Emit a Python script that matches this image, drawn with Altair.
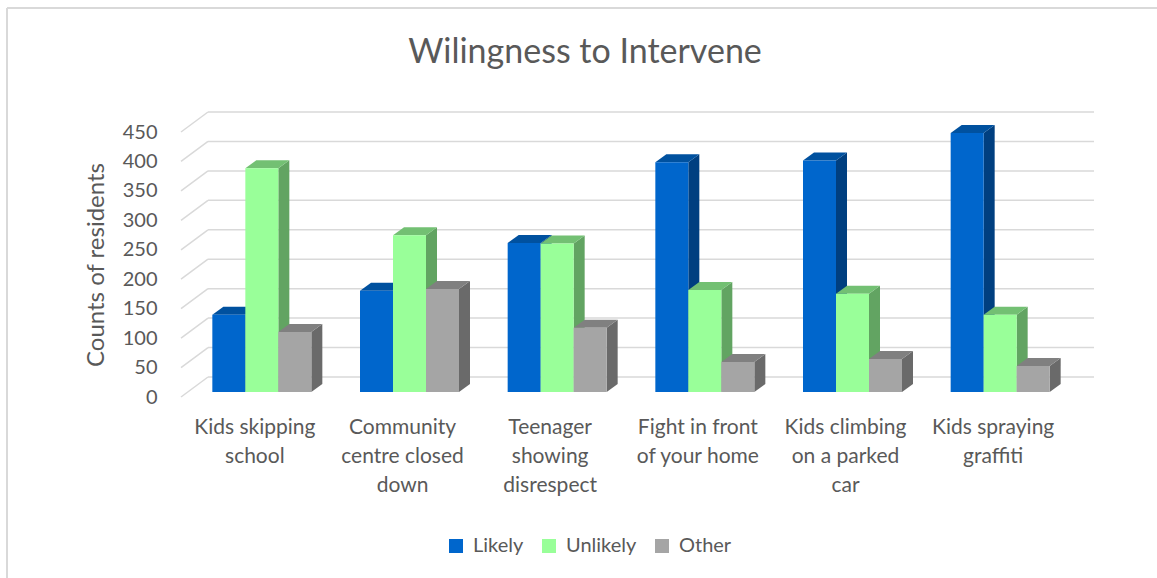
import altair as alt
import pandas as pd

# ---------------- data ----------------
CATEGORIES = [
    "Kids skipping\nschool",
    "Community\ncentre closed\ndown",
    "Teenager\nshowing\ndisrespect",
    "Fight in front\nof your home",
    "Kids climbing\non a parked\ncar",
    "Kids spraying\ngraffiti",
]
SERIES = ["Likely", "Unlikely", "Other"]
LIKELY = [131, 172, 253, 390, 393, 440]
UNLIKELY = [380, 266, 252, 173, 167, 131]
OTHER = [102, 175, 109, 51, 56, 44]
Y_TICKS = [0, 50, 100, 150, 200, 250, 300, 350, 400, 450]

# ---------------- styles ----------------
FRONT = ["#0066CC", "#99FF99", "#A5A5A5"]
TOP = ["#00519F", "#73C073", "#808080"]
SIDE = ["#003F80", "#62A462", "#6A6A6A"]
GRID = "#D9D9D9"
TEXT = "#595959"
FONT = "Lato"

W, H = 886, 265
YMAX = 450
NCAT = len(CATEGORIES)
PX_X = W / NCAT      # pixels per category unit
PX_Y = H / YMAX      # pixels per value unit

BAR_W = 33 / PX_X
PAD = (1 - 3 * BAR_W) / 2
SHIFT_X, SHIFT_Y = 7 / PX_X, 5 / PX_Y      # bars sit a little back from the front plane
BAR_DX, BAR_DY = 11 / PX_X, 8 / PX_Y       # bar depth
WALL_DX, WALL_DY = 27 / PX_X, 20 / PX_Y    # floor / wall depth

values = [LIKELY, UNLIKELY, OTHER]

fronts, tops, sides = [], [], []
for j, s in enumerate(SERIES):
    for i, v in enumerate(values[j]):
        x0 = i + PAD + j * BAR_W + SHIFT_X
        x1 = x0 + BAR_W
        b = SHIFT_Y
        t = v + SHIFT_Y
        bid = f"{s}-{i}"
        fronts.append({"series": s, "x0": x0, "x1": x1, "yb": b, "yt": t, "value": v})
        tops.append({"id": bid, "c": TOP[j], "y": t, "xa": x0, "xb": x1})
        tops.append({"id": bid, "c": TOP[j], "y": t + BAR_DY, "xa": x0 + BAR_DX, "xb": x1 + BAR_DX})
        sides.append({"id": bid, "c": SIDE[j], "x": x1, "y": t, "y2": b})
        sides.append({"id": bid, "c": SIDE[j], "x": x1 + BAR_DX, "y": t + BAR_DY, "y2": b + BAR_DY})

fronts_df = pd.DataFrame(fronts)
tops_df = pd.DataFrame(tops)
sides_df = pd.DataFrame(sides)

grid_df = pd.DataFrame({
    "v": Y_TICKS,
    "vb": [v + WALL_DY for v in Y_TICKS],
    "x0": [0.0] * len(Y_TICKS),
    "xw": [WALL_DX] * len(Y_TICKS),
    "xe": [NCAT + WALL_DX] * len(Y_TICKS),
})
cat_df = pd.DataFrame({"label": CATEGORIES, "xc": [i + 0.5 for i in range(NCAT)]})

xs = alt.Scale(domain=[0, NCAT], nice=False, zero=False)
ys = alt.Scale(domain=[0, YMAX], nice=False, zero=False)

Y_AXIS = alt.Axis(
    values=Y_TICKS, grid=False, domain=False, ticks=False,
    labelPadding=24, labelFontSize=20, labelColor=TEXT, labelFont=FONT,
    title="Counts of residents", titleFontSize=24, titleFont=FONT,
    titleFontWeight="normal", titleColor=TEXT, titlePadding=14,
)


def Y(field):
    return alt.Y(field, scale=ys, axis=Y_AXIS)


def X(field):
    return alt.X(field, scale=xs, axis=None)


side_wall = alt.Chart(grid_df).mark_rule(color=GRID, strokeWidth=1.5).encode(
    x=X("x0:Q"), x2="xw:Q", y=Y("v:Q"), y2="vb:Q",
)
back_wall = alt.Chart(grid_df).mark_rule(color=GRID, strokeWidth=1.5).encode(
    x=X("xw:Q"), x2="xe:Q", y=Y("vb:Q"),
)

side_faces = alt.Chart(sides_df).mark_area(orient="vertical").encode(
    x=X("x:Q"), y=Y("y:Q"), y2="y2:Q",
    detail="id:N",
    color=alt.Color("c:N", scale=None),
)
top_faces = alt.Chart(tops_df).mark_area(orient="horizontal").encode(
    y=Y("y:Q"), x=X("xa:Q"), x2="xb:Q",
    detail="id:N",
    color=alt.Color("c:N", scale=None),
)
front_faces = alt.Chart(fronts_df).mark_rect().encode(
    x=X("x0:Q"), x2="x1:Q", y=Y("yt:Q"), y2="yb:Q",
    color=alt.Color(
        "series:N",
        scale=alt.Scale(domain=SERIES, range=FRONT),
        legend=alt.Legend(
            title=None, orient="none", legendX=265, legendY=404,
            direction="horizontal", symbolType="square", symbolSize=196,
            symbolStrokeWidth=0, labelFontSize=20, labelFont=FONT, labelColor=TEXT,
            labelOffset=7, columnPadding=15,
        ),
    ),
)

cat_labels = alt.Chart(cat_df).mark_text(
    lineBreak="\n", fontSize=21, font=FONT, color=TEXT, baseline="top", lineHeight=29, align="center"
).encode(
    x=X("xc:Q"),
    y=alt.value(H + 20),
    text="label:N",
)

border_top = alt.Chart(cat_df).mark_rule(color=GRID, strokeWidth=2).encode(
    x=alt.value(-174), x2=alt.value(1000), y=alt.value(-124)
)
border_left = alt.Chart(cat_df).mark_rule(color=GRID, strokeWidth=2).encode(
    x=alt.value(-174), y=alt.value(-124), y2=alt.value(460)
)

chart = alt.layer(
    side_wall, back_wall, side_faces, top_faces, front_faces, cat_labels,
    border_top, border_left,
).resolve_scale(color="independent").properties(
    width=W,
    height=H,
    title=alt.TitleParams(
        "Wilingness to Intervene", fontSize=34, font=FONT, color=TEXT,
        fontWeight="normal", anchor="middle", frame="group", dx=-39, offset=0, dy=63,
    ),
    autosize=alt.AutoSizeParams(type="none"),
    padding={"left": 181, "top": 132, "right": 90, "bottom": 181},
).configure(
    background="white",
    view=alt.ViewConfig(stroke="transparent", strokeWidth=0),
)

chart.save("out.html", embed_options={"renderer": "svg", "actions": False})
